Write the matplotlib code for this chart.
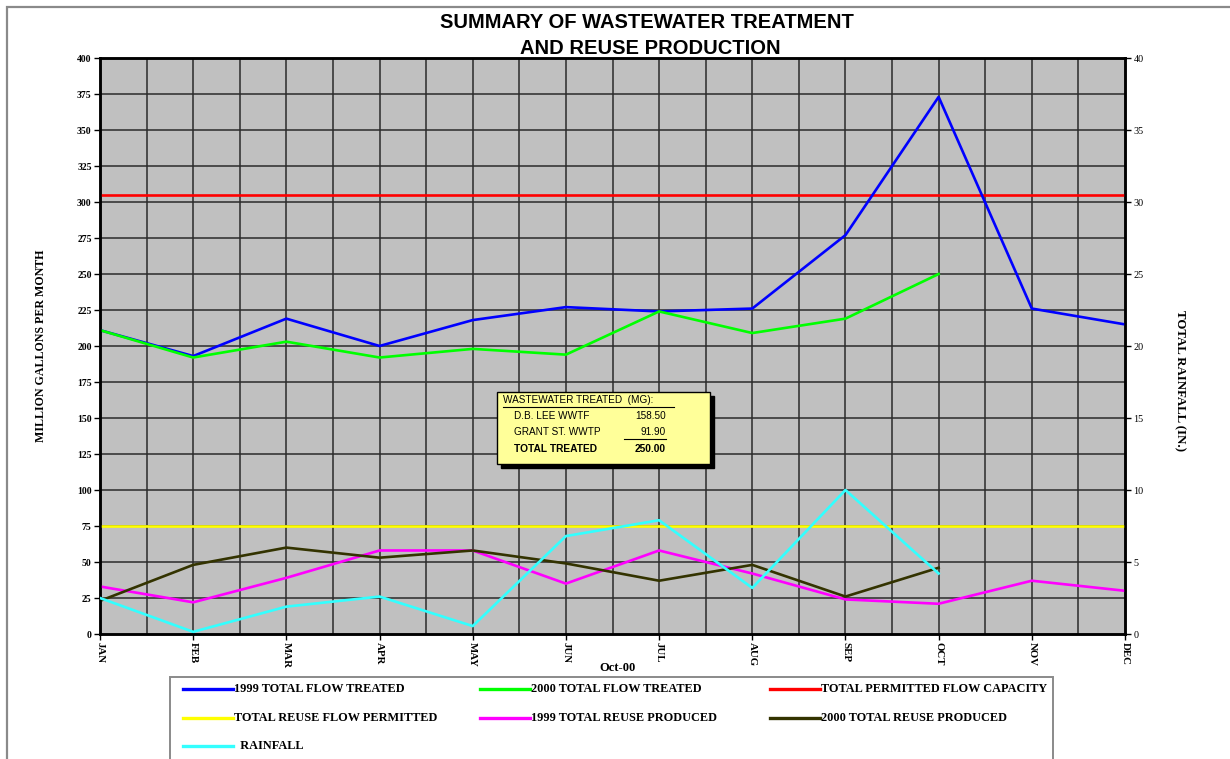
"""Summary of wastewater treatment and reuse production (monthly)."""
import matplotlib
matplotlib.use("Agg")
import matplotlib.pyplot as plt
import numpy as np
from matplotlib.lines import Line2D
from matplotlib.patches import Rectangle

# ----- Data ---------------------------------------------------------------
months = ["JAN", "FEB", "MAR", "APR", "MAY", "JUN",
          "JUL", "AUG", "SEP", "OCT", "NOV", "DEC"]
flow_1999 = [211, 193, 219, 200, 218, 227, 224, 226, 277, 373, 226, 215]
flow_2000 = [211, 192, 203, 192, 198, 194, 224, 209, 219, 250]
permitted_flow = 305
reuse_permitted = 75
reuse_1999 = [33, 22, 39, 58, 58, 35, 58, 42, 24, 21, 37, 30]
reuse_2000 = [23, 48, 60, 53, 58, 49, 37, 48, 26, 46]
rainfall = [2.5, 0.15, 1.9, 2.6, 0.55, 6.8, 7.9, 3.2, 10.0, 4.2]

box_lines = [("WASTEWATER TREATED  (MG):", ""),
             ("D.B. LEE WWTF", "158.50"),
             ("GRANT ST. WWTP", "91.90"),
             ("TOTAL TREATED", "250.00")]

SERIF = "Liberation Serif"
SANS = "Liberation Sans"
LW = 1.9

fig = plt.figure(figsize=(12.3, 7.59), dpi=100)
W, H = 1230, 759


def fx(px):
    return px / W


def fy(py):
    return 1 - py / H


# outer chart frame (cut by the page on the right/bottom)
fig.patches.append(Rectangle((fx(7), -0.1), 1.2, fy(7) + 0.1, transform=fig.transFigure,
                             fill=False, ec="#8a8a8a", lw=1.6))

ax = fig.add_axes([fx(100), fy(634), fx(1125) - fx(100), fy(58) - fy(634)])
ax.set_facecolor("#c0c0c0")
x_all = np.arange(len(months))

# grid: every 25 MG, every half month
for v in np.arange(25, 400, 25):
    ax.axhline(v, color="#2a2a2a", lw=1.1, zorder=1)
for v in np.arange(0.5, 11, 0.5):
    ax.axvline(v, color="#2a2a2a", lw=1.1, zorder=1)

ax.axhline(permitted_flow, color="#ff0000", lw=LW, zorder=3)
ax.axhline(reuse_permitted, color="#ffff00", lw=LW, zorder=3)
ax.plot(x_all, flow_1999, color="#0000ff", lw=LW, zorder=4)
ax.plot(x_all[:len(flow_2000)], flow_2000, color="#00ff00", lw=LW, zorder=4)
ax.plot(x_all, reuse_1999, color="#ff00ff", lw=LW, zorder=4)
ax.plot(x_all[:len(reuse_2000)], reuse_2000, color="#333300", lw=LW, zorder=4)

ax.set_xlim(0, 11)
ax.set_ylim(0, 400)
ax.set_yticks(np.arange(0, 401, 25))
ax.set_yticklabels([str(v) for v in range(0, 401, 25)], fontsize=7,
                   fontweight="bold", family=SERIF)
ax.set_xticks(x_all)
ax.set_xticklabels(months, rotation=-90, fontsize=7.8, fontweight="bold",
                   family=SERIF, va="top")
ax.tick_params(axis="both", length=4, width=1, direction="out", pad=2)
ax.set_xlabel("Oct-00", fontsize=9, fontweight="bold", family=SERIF, va="center")
ax.xaxis.set_label_coords(0.505, -0.059)
ax.set_ylabel("MILLION GALLONS PER MONTH", fontsize=8.6, fontweight="bold",
              family=SERIF)
ax.yaxis.set_label_coords(-0.052, 0.5)
for s in ax.spines.values():
    s.set_linewidth(1.8)

# rainfall on the right-hand axis
ax2 = ax.twinx()
ax2.plot(x_all[:len(rainfall)], rainfall, color="#33ffff", lw=LW, zorder=5)
ax2.set_ylim(0, 40)
ax2.set_yticks(np.arange(0, 41, 5))
ax2.set_yticklabels([str(v) for v in range(0, 41, 5)], fontsize=7.3,
                    family=SERIF)
ax2.tick_params(axis="y", length=4, width=1, direction="out", pad=2)
ax2.set_ylabel("TOTAL RAINFALL (IN.)", fontsize=9.3, fontweight="bold",
               family=SERIF, rotation=-90, va="center")
ax2.yaxis.set_label_coords(1.053, 0.44)
for s in ax2.spines.values():
    s.set_linewidth(1.8)

# title
fig.text(fx(647), fy(22), "SUMMARY OF WASTEWATER TREATMENT", ha="center",
         va="center", fontsize=14.5, fontweight="bold", family=SANS)
fig.text(fx(650), fy(48), "AND REUSE PRODUCTION", ha="center",
         va="center", fontsize=14.5, fontweight="bold", family=SANS)

# text box
bx0, by0, bx1, by1 = 497, 392, 710, 464
fig.patches.append(Rectangle((fx(bx0 + 4), fy(by1 + 4)), fx(bx1 - bx0), fy(by0) - fy(by1),
                             transform=fig.transFigure, fc="black", ec="black", zorder=6))
fig.patches.append(Rectangle((fx(bx0), fy(by1)), fx(bx1 - bx0), fy(by0) - fy(by1),
                             transform=fig.transFigure, fc="#ffff99", ec="black",
                             lw=1.0, zorder=7))
rows_y = [400, 416, 432, 449]
for i, ((lab, val), yy) in enumerate(zip(box_lines, rows_y)):
    bold = i == len(box_lines) - 1
    xl = 503 if i == 0 else 514
    fs = 7.4 if bold else 7.2
    fig.text(fx(xl), fy(yy), lab, fontsize=fs,
             fontweight="bold" if bold else "normal", family=SANS,
             va="center", ha="left", zorder=8)
    if val:
        fig.text(fx(666), fy(yy), val, fontsize=fs,
                 fontweight="bold" if bold else "normal", family=SANS,
                 va="center", ha="right", zorder=8)
# underlines
fig.add_artist(Line2D([fx(503), fx(674)], [fy(407), fy(407)], color="black", lw=0.8, zorder=8))
fig.add_artist(Line2D([fx(624), fx(666)], [fy(439), fy(439)], color="black", lw=0.8, zorder=8))

# legend box
fig.patches.append(Rectangle((fx(170), -0.05), fx(1053 - 170), fy(677) + 0.05,
                             transform=fig.transFigure, fill=False, ec="#8a8a8a", lw=1.4))
legend_items = [("1999 TOTAL FLOW TREATED", "#0000ff"),
                ("2000 TOTAL FLOW TREATED", "#00ff00"),
                ("TOTAL PERMITTED FLOW CAPACITY", "#ff0000"),
                ("TOTAL REUSE FLOW PERMITTED", "#ffff00"),
                ("1999 TOTAL REUSE PRODUCED", "#ff00ff"),
                ("2000 TOTAL REUSE PRODUCED", "#333300"),
                ("  RAINFALL", "#33ffff")]
col_x = [183, 480, 770]
row_y = [689, 718, 746]
for k, (lab, col) in enumerate(legend_items):
    cx, ry = col_x[k % 3], row_y[k // 3]
    fig.add_artist(Line2D([fx(cx), fx(cx + 50)], [fy(ry), fy(ry)], color=col, lw=2.4))
    fig.text(fx(cx + 51), fy(ry), lab, fontsize=8.8, fontweight="bold",
             family=SERIF, va="center", ha="left")

fig.savefig("out.png", dpi=100)
